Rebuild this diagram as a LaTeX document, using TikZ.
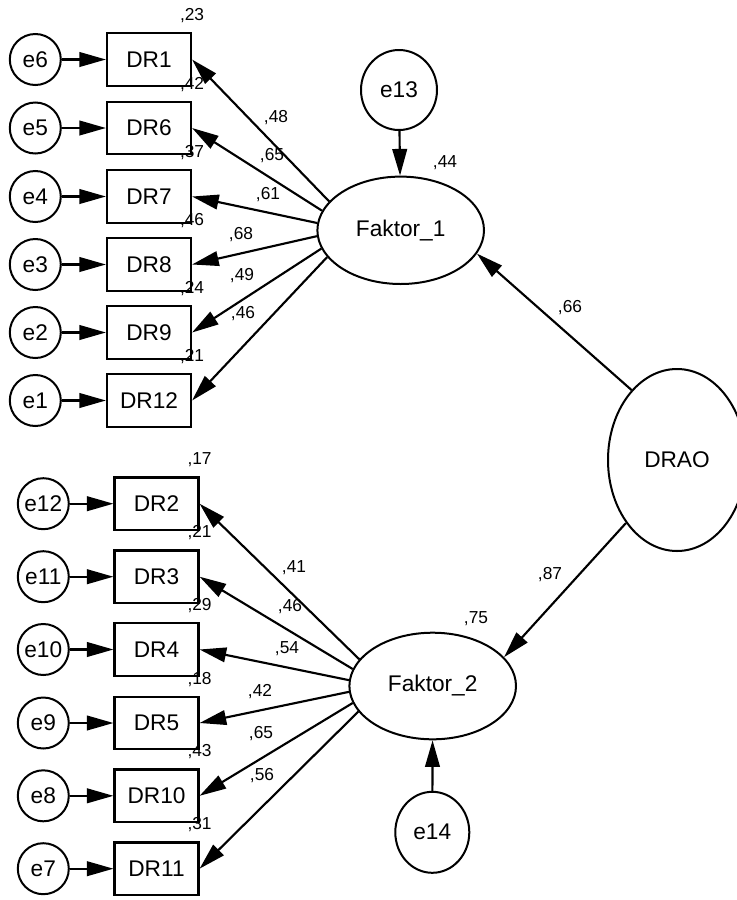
\documentclass[tikz,border=0pt]{standalone}
\usepackage{fontspec}
\setmainfont{Liberation Sans}
\usetikzlibrary{arrows.meta,shapes.geometric}
\newlength\px
\setlength\px{0.75pt}
\begin{document}
\begin{tikzpicture}[x=0.75pt,y=-0.75pt,
  every node/.style={inner sep=0pt},
  obs/.style={draw,line width=1.6pt,rectangle,minimum width=84\px,minimum height=52.5\px,
    font=\fontsize{17}{20}\selectfont},
  err/.style={draw,line width=1.5pt,circle,minimum size=51\px,font=\fontsize{17}{20}\selectfont},
  lat/.style={draw,line width=1.5pt,ellipse,font=\fontsize{17}{20}\selectfont},
  lbl/.style={font=\fontsize{13}{15}\selectfont},
  arr/.style={line width=1.6pt,-{Triangle[length=20pt,width=11pt]}},
]
\useasboundingbox (0,0) rectangle (737,900);

% latent factors
\node[lat,minimum width=166.6\px,minimum height=107.4\px] (F1) at (400.7,230.3) {Faktor\_1};
\node[lat,minimum width=166.6\px,minimum height=106.6\px] (F2) at (432.7,686) {Faktor\_2};
\node[lat,minimum width=138\px,minimum height=182\px] (DRAO) at (677,460) {DRAO};
\node[lat,minimum width=76\px,minimum height=80\px] (e13) at (399,90) {e13};
\node[lat,minimum width=74\px,minimum height=81\px] (e14) at (432.3,832.3) {e14};

% indicators of Faktor_1
\foreach \n/\y/\e/\a/\r in {DR1/59.5/e6/158.7/{,23},DR6/128/e5/166.9/{,42},DR7/196.5/e4/175/{,37},
    DR8/264.5/e3/184.6/{,46},DR9/332.5/e2/193/{,24},DR12/400.5/e1/200.9/{,21}}{
  \node[obs] (\n) at (149,\y) {\n};
  \node[err] (\e) at (35.3,\y) {\e};
  \draw[arr] (\e) -- (\n);
  \draw[arr] (F1.\a) -- (\n.east);
  \node[lbl] (r\n) at ([yshift=12.4pt]\n.north east) {\r};
}

% indicators of Faktor_2
\foreach \n/\y/\e/\a/\r in {DR2/503.7/e12/160.1/{,17},DR3/576.7/e11/168.8/{,21},DR4/649.5/e10/176.6/{,29},
    DR5/723/e9/184/{,18},DR10/795.8/e8/192/{,43},DR11/868.7/e7/199.6/{,31}}{
  \node[obs] (\n) at (156.5,\y) {\n};
  \node[err] (\e) at (43.3,\y) {\e};
  \draw[arr] (\e) -- (\n);
  \draw[arr] (F2.\a) -- (\n.east);
  \node[lbl] (r\n) at ([yshift=12.4pt]\n.north east) {\r};
}

% structural paths and disturbances
\draw[arr] (e13) -- (F1);
\draw[arr] (e14) -- (F2);
\draw[arr] (DRAO.123.5) -- (F1.343.4);
\draw[arr] (DRAO.231.6) -- (F2.22.1);

% loadings of Faktor_1
\node[lbl] (w1) at (276,118) {,48};
\node[lbl] (w6) at (272,156) {,65};
\node[lbl] (w7) at (268,195) {,61};
\node[lbl] (w8) at (241,235) {,68};
\node[lbl] (w9) at (242,276) {,49};
\node[lbl] (w12) at (243,314) {,46};

% loadings of Faktor_2
\node[lbl] (w2) at (294,568) {,41};
\node[lbl] (w3) at (290,607) {,46};
\node[lbl] (w4) at (287,649) {,54};
\node[lbl] (w5) at (260,692) {,42};
\node[lbl] (w10) at (261,734) {,65};
\node[lbl] (w11) at (262,776) {,56};

% second-order estimates
\node[lbl] (rF1) at (445,163) {,44};
\node[lbl] (rF2) at (476,619) {,75};
\node[lbl] (wF1) at (570,308) {,66};
\node[lbl] (wF2) at (550,575) {,87};
\end{tikzpicture}
\end{document}
